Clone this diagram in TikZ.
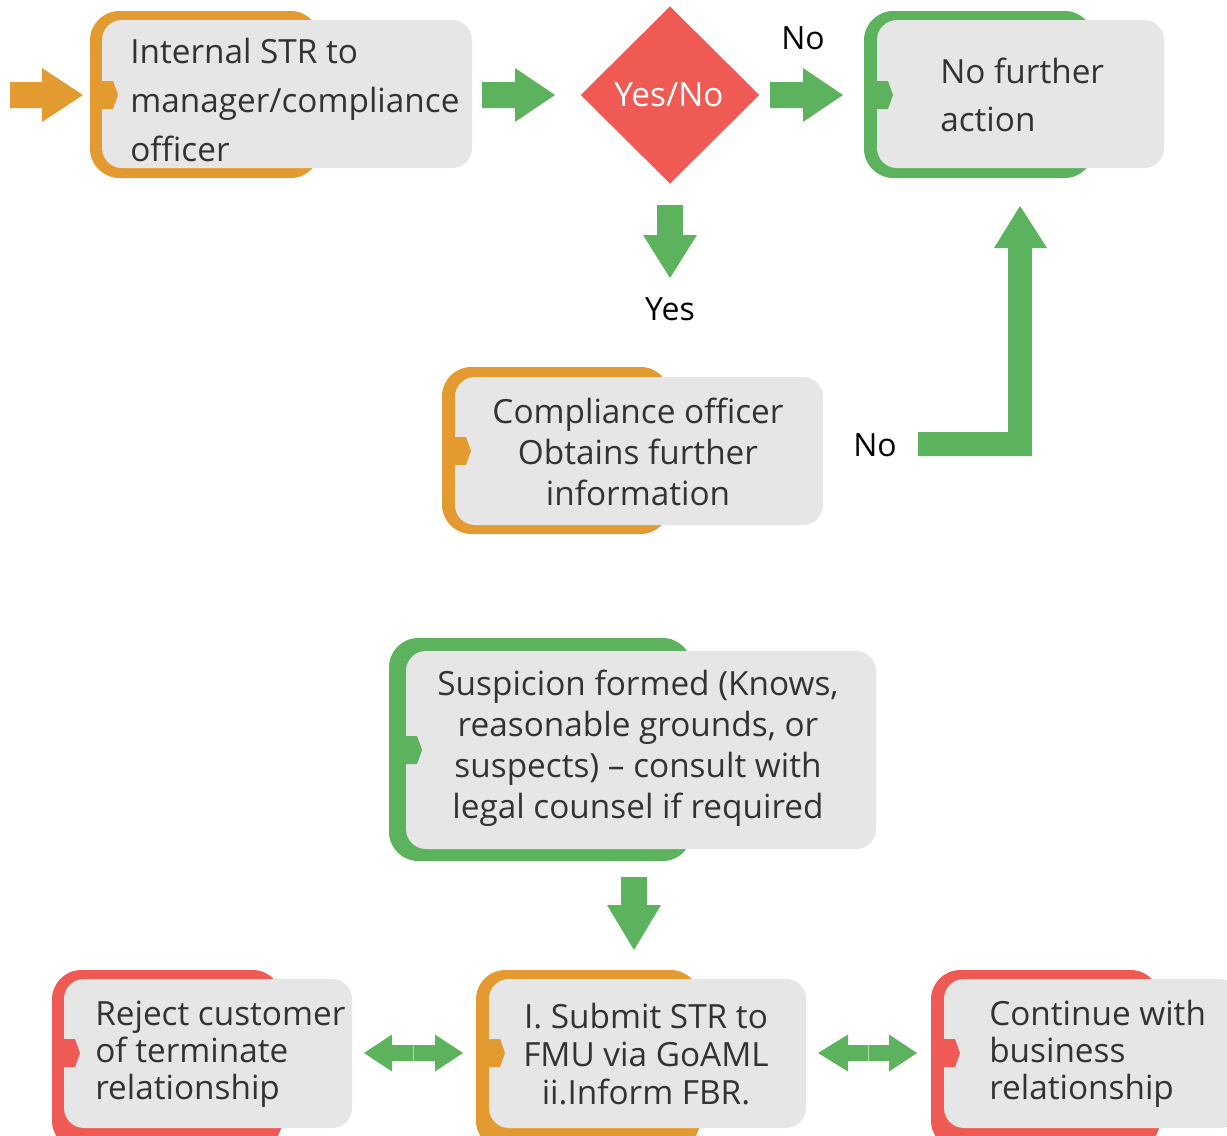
\documentclass[tikz,border=0pt]{standalone}
\usepackage{fontspec}
\setmainfont{Open Sans}
\usetikzlibrary{shapes.geometric}

\definecolor{cOrange}{HTML}{E39A31}
\definecolor{cGreen}{HTML}{5DB25D}
\definecolor{cRed}{HTML}{F05A54}
\definecolor{cGray}{HTML}{E6E6E6}
\definecolor{cText}{HTML}{333333}

% tab: colour, x of card's left edge, y of its middle
\newcommand\cardtab[3]{\fill[#1] (#2,#3-14) -- (#2+11,#3-14) -- (#2+16,#3) -- (#2+11,#3+14) -- (#2,#3+14) -- cycle;}
% right-pointing block arrow: colour, tail x, head base x, tip x, middle y
\newcommand\rblock[5]{\fill[#1] (#2,#5-13) -- (#3,#5-13) -- (#3,#5-27) -- (#4,#5) -- (#3,#5+27) -- (#3,#5+13) -- (#2,#5+13) -- cycle;}
% downward block arrow: colour, middle x, tail y, head base y, tip y
\newcommand\dblock[5]{\fill[#1] (#2-13,#3) -- (#2+13,#3) -- (#2+13,#4) -- (#2+27,#4) -- (#2,#5) -- (#2-27,#4) -- (#2-13,#4) -- cycle;}
% double block arrow: left tip, left base, middle, right base, right tip, y
\newcommand\lrblock[6]{%
  \fill[cGreen] (#1,#6) -- (#2,#6-18.5) -- (#2,#6-8) -- (#4,#6-8) -- (#4,#6-18.5) -- (#5,#6) -- (#4,#6+18.5) -- (#4,#6+8) -- (#2,#6+8) -- (#2,#6+18.5) -- cycle;
  \draw[cGreen!50!white, line width=0.5pt] (#3,#6-8) -- (#3,#6+8);}

\tikzset{
  back/.style={fill=#1, rounded corners=22pt},
  face/.style={fill=cGray, rounded corners=15pt},
  big/.style={text=cText, inner sep=0pt, font=\fontsize{25}{36.5}\selectfont},
  mid/.style={text=cText, inner sep=0pt, align=center, font=\fontsize{25}{30.75}\selectfont},
  small/.style={text=cText, inner sep=0pt, align=left, font=\fontsize{25}{27.75}\selectfont},
  lbl/.style={text=black, inner sep=0pt, font=\fontsize{24}{28}\selectfont},
}

\begin{document}
\begin{tikzpicture}[x=0.75pt,y=-0.75pt]
\useasboundingbox (0,0) rectangle (1227,1135);

% ---- internal STR card
\fill[back=cOrange] (90,11) rectangle (320,178);
\fill[face] (102,20) rectangle (472,168);
\cardtab{cOrange}{102}{95}
\node[big, align=left, anchor=west] (internal) at (130,100) {Internal STR to\\manager/compliance\\officer};
\rblock{cOrange}{10}{42}{83}{95}

% ---- decision
\node[diamond, fill=cRed, minimum width=134pt, minimum height=133pt, inner sep=0pt] (decide) at (670,95) {};
\node[lbl, text=white, font=\fontsize{25}{28}\selectfont] (decidetxt) at (669,95) {Yes/No};
\rblock{cGreen}{482}{515}{555}{95}
\rblock{cGreen}{770}{803}{843}{95}
\node[lbl] (nolbl1) at (803,38) {No};
\dblock{cGreen}{670}{205}{235}{278}
\node[lbl] (yeslbl) at (670,309) {Yes};

% ---- no further action card
\fill[back=cGreen] (864,11) rectangle (1094,178);
\fill[face] (877,20) rectangle (1164,168);
\cardtab{cGreen}{877}{95}
\node[big, align=left, anchor=west] (nofurther) at (940,95) {No further\\action};

% ---- compliance officer card
\fill[back=cOrange] (442,367) rectangle (670,534);
\fill[face] (455,377) rectangle (823,525);
\cardtab{cOrange}{455}{451}
\node[mid] (officer) at (638,452) {Compliance officer\\Obtains further\\information};
\node[lbl] (nolbl2) at (875,445) {No};
% bent arrow back up to "No further action"
\fill[cGreen] (918,432) -- (1008,432) -- (1008,248) -- (994,248) -- (1020,206) -- (1047,248) -- (1032,248) -- (1032,456) -- (918,456) -- cycle;

% ---- suspicion card
\fill[back=cGreen] (389,638) rectangle (692,861);
\fill[face] (406,651) rectangle (876,849);
\cardtab{cGreen}{406}{750}
\node[mid] (suspicion) at (638,748) {Suspicion formed (Knows,\\reasonable grounds, or\\suspects) -- consult with\\legal counsel if required};
\dblock{cGreen}{634}{877}{905}{950}

% ---- bottom row
\fill[back=cRed] (52,970) rectangle (282,1150);
\fill[face] (64,979) rectangle (352,1128);
\cardtab{cRed}{64}{1053}
\node[small, anchor=west] (reject) at (95,1054) {Reject customer\\of terminate\\relationship};

\fill[back=cOrange] (476,970) rectangle (700,1150);
\fill[face] (489,979) rectangle (806,1128);
\cardtab{cOrange}{489}{1053}
\node[mid, font=\fontsize{25}{28.5}\selectfont] (submit) at (646,1054) {I. Submit STR to\\FMU via GoAML\\ii.Inform FBR.};

\fill[back=cRed] (931,970) rectangle (1160,1150);
\fill[face] (944,979) rectangle (1240,1128);
\cardtab{cRed}{944}{1053}
\node[small, anchor=west] (continue) at (989,1054) {Continue with\\business\\relationship};

\lrblock{364}{392}{413}{435}{463}{1053}
\lrblock{818}{848}{868}{889}{917}{1053}
\end{tikzpicture}
\end{document}
